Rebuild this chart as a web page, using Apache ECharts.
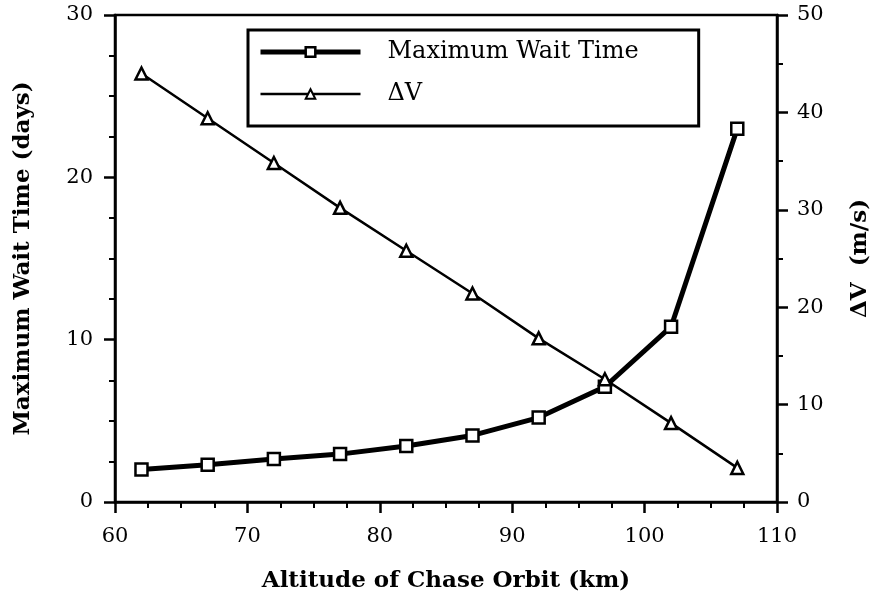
<!DOCTYPE html>
<html>
<head>
<meta charset="utf-8">
<script src="https://cdn.jsdelivr.net/npm/echarts@6/dist/echarts.min.js"></script>
<style>
  html, body { margin: 0; padding: 0; background: #fff; }
  #chart { width: 880px; height: 598px; }
</style>
</head>
<body>
<div id="chart"></div>
<script>
// Chase orbit altitude (km)
const altitudes = [62, 67, 72, 77, 82, 87, 92, 97, 102, 107];
// Maximum wait time (days), left axis
const waitTime = [2.0, 2.3, 2.65, 2.95, 3.45, 4.1, 5.2, 7.1, 10.8, 23.0];
// Delta-V (m/s), right axis
const deltaV = [44.0, 39.4, 34.8, 30.2, 25.8, 21.4, 16.8, 12.6, 8.1, 3.5];

const seriesNames = ['Maximum Wait Time', '\u0394V'];
const axisTitles = {
  x: 'Altitude of Chase Orbit (km)',
  left: 'Maximum Wait Time (days)',
  right: '\u0394V  (m/s)'
};

const FONT = 'DejaVu Serif';
const ink = '#000';

const chart = echarts.init(document.getElementById('chart'), null, { renderer: 'canvas' });

const axisCommon = {
  axisLine: { show: true, lineStyle: { color: ink, width: 2.5 } },
  axisTick: { show: true, inside: false, length: 11, lineStyle: { color: ink, width: 2.5 } },
  minorTick: { show: true, length: 6, lineStyle: { color: ink, width: 2 } },
  splitLine: { show: false },
  axisLabel: { color: ink, fontFamily: FONT, fontSize: 21 },
  nameTextStyle: { color: ink, fontFamily: FONT, fontSize: 23, fontWeight: 'bold' }
};

chart.setOption({
  backgroundColor: '#fff',
  animation: false,
  grid: { left: 115, right: 98, top: 15, bottom: 95, show: true, borderColor: ink, borderWidth: 2.5 },
  legend: {
    orient: 'vertical',
    left: 248,
    top: 30,
    itemWidth: 100,
    itemHeight: 12,
    itemGap: 18,
    padding: [10, 60, 20, 10],
    borderColor: ink,
    borderWidth: 3,
    backgroundColor: '#fff',
    textStyle: { color: ink, fontFamily: FONT, fontSize: 24, padding: [0, 0, 0, 22] },
    data: [
      { name: seriesNames[0], lineStyle: { width: 5 }, itemStyle: { borderWidth: 2.5 } },
      { name: seriesNames[1], lineStyle: { width: 2.5 } }
    ]
  },
  xAxis: Object.assign({}, axisCommon, {
    type: 'value',
    min: 60, max: 110, interval: 10,
    minorTick: Object.assign({}, axisCommon.minorTick, { splitNumber: 4 }),
    axisLabel: Object.assign({}, axisCommon.axisLabel, { margin: 24 }),
    name: axisTitles.x,
    nameLocation: 'middle',
    nameGap: 68
  }),
  yAxis: [
    Object.assign({}, axisCommon, {
      type: 'value',
      position: 'left',
      min: 0, max: 30, interval: 10,
      minorTick: Object.assign({}, axisCommon.minorTick, { splitNumber: 4 }),
      axisLabel: Object.assign({}, axisCommon.axisLabel, { margin: 22 }),
      name: axisTitles.left,
      nameLocation: 'middle',
      nameRotate: 90,
      nameGap: 80
    }),
    Object.assign({}, axisCommon, {
      type: 'value',
      position: 'right',
      min: 0, max: 50, interval: 10,
      minorTick: Object.assign({}, axisCommon.minorTick, { splitNumber: 2 }),
      axisLabel: Object.assign({}, axisCommon.axisLabel, { margin: 20 }),
      name: axisTitles.right,
      nameLocation: 'middle',
      nameRotate: 90,
      nameGap: 72
    })
  ],
  series: [
    {
      name: seriesNames[0],
      type: 'line',
      yAxisIndex: 0,
      data: altitudes.map((a, i) => [a, waitTime[i]]),
      symbol: 'rect',
      symbolSize: 12,
      lineStyle: { color: ink, width: 5 },
      itemStyle: { color: '#fff', borderColor: ink, borderWidth: 2.5 },
      z: 3
    },
    {
      name: seriesNames[1],
      type: 'line',
      yAxisIndex: 1,
      data: altitudes.map((a, i) => [a, deltaV[i]]),
      symbol: 'triangle',
      symbolSize: 12,
      lineStyle: { color: ink, width: 2.5 },
      itemStyle: { color: '#fff', borderColor: ink, borderWidth: 2.5 },
      z: 4
    }
  ]
});
</script>
</body>
</html>
